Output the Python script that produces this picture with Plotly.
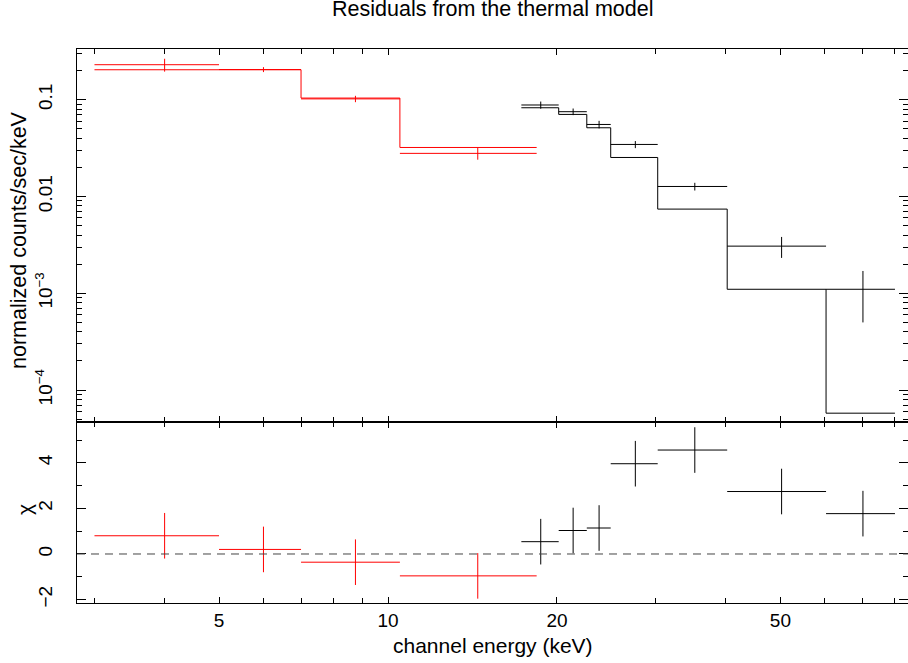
import plotly.graph_objects as go
import numpy as np

# ---------------- data ----------------
# red data set (lower energies)
red_lo = [3.0, 5.0, 7.0, 10.5]
red_hi = [5.0, 7.0, 10.5, 18.4]
red_e = [4.0, 6.0, 8.75, 14.45]
red_data = [0.230, 0.205, 0.102, 0.0279]
red_err = [0.035, 0.012, 0.0077, 0.0039]
red_model = [0.204, 0.204, 0.104, 0.0321]
red_resid = [0.80, 0.20, -0.36, -0.96]

# black data set (higher energies)
blk_lo = [17.28, 20.14, 22.6, 24.93, 30.23, 40.2, 60.3]
blk_hi = [20.14, 22.6, 24.93, 30.23, 40.2, 60.3, 80.0]
blk_e = [18.71, 21.37, 23.77, 27.58, 35.2, 50.25, 70.15]
blk_data = [0.0882, 0.0752, 0.0555, 0.0345, 0.01269, 0.00307, 0.00110]
blk_err = [0.0075, 0.0059, 0.0050, 0.0029, 0.00116, 0.00075, 0.0006]
blk_model = [0.0826, 0.0705, 0.0513, 0.0253, 0.00741, 0.00110, 5.77e-5]
blk_resid = [0.54, 1.03, 1.14, 3.96, 4.56, 2.74, 1.77]

x_ticks = [5, 10, 20, 50]
x_tick_text = ["5", "10", "20", "50"]
y_ticks = [1e-4, 1e-3, 0.01, 0.1]
y_tick_text = ["10<sup>−4</sup>", "10<sup>−3</sup>", "0.01", "0.1"]
chi_ticks = [-2, 0, 2, 4]
chi_tick_text = ["−2", "0", "2", "4"]

title_text = "Residuals from the thermal model"
x_title = "channel energy (keV)"
y_title = "normalized counts/sec/keV"
chi_title = "χ"

FONT = "Liberation Sans, Arial, Helvetica, sans-serif"
RED = "#ff0000"
BLK = "#000000"

fig = go.Figure()


def add_set(lo, hi, e, data, err, model, resid, color):
    lo = np.array(lo); hi = np.array(hi); e = np.array(e)
    xm = e - lo
    xp = hi - e
    # data crosses (top)
    fig.add_trace(go.Scatter(
        x=e, y=data, mode="markers", marker=dict(size=0.1, color=color),
        error_x=dict(type="data", array=xp, arrayminus=xm, symmetric=False,
                     width=0, thickness=1, color=color),
        error_y=dict(type="data", array=err, width=0, thickness=1, color=color),
        xaxis="x", yaxis="y", showlegend=False, hoverinfo="skip"))
    # model step line (top)
    xs = list(lo) + [hi[-1]]
    ys = list(model) + [model[-1]]
    fig.add_trace(go.Scatter(
        x=xs, y=ys, mode="lines", line=dict(color=color, width=1, shape="hv"),
        xaxis="x", yaxis="y", showlegend=False, hoverinfo="skip"))
    # residual crosses (bottom)
    fig.add_trace(go.Scatter(
        x=e, y=resid, mode="markers", marker=dict(size=0.1, color=color),
        error_x=dict(type="data", array=xp, arrayminus=xm, symmetric=False,
                     width=0, thickness=1, color=color),
        error_y=dict(type="constant", value=1, width=0, thickness=1, color=color),
        xaxis="x2", yaxis="y2", showlegend=False, hoverinfo="skip"))


add_set(red_lo, red_hi, red_e, red_data, red_err, red_model, red_resid, RED)
add_set(blk_lo, blk_hi, blk_e, blk_data, blk_err, blk_model, blk_resid, BLK)

# dashed zero line
fig.add_shape(type="line", xref="x2 domain", yref="y2", x0=0, x1=1, y0=0, y1=0,
              line=dict(color="#444444", width=1, dash="8px,6px"))

split = 181 / 554
xrange = [0.446, 1.9263]
x_minor = [3, 4, 6, 7, 8, 9, 30, 40, 60, 70, 80]
y_minor = [m * 10.0 ** d for d in range(-5, 1) for m in range(2, 10)]

common_x = dict(type="log", range=xrange, showline=True, linecolor="black", linewidth=1,
                mirror="ticks", ticks="inside", ticklen=6, tickcolor="black", tickwidth=1,
                tickmode="array", tickvals=x_ticks, ticktext=x_tick_text,
                minor=dict(tickmode="array", tickvals=x_minor, ticks="inside", ticklen=5,
                           tickcolor="black", tickwidth=1),
                showgrid=False, zeroline=False,
                tickfont=dict(family=FONT, size=19, color="black"))

fig.update_layout(
    width=908, height=663,
    margin=dict(l=77, r=0, t=49, b=60),
    paper_bgcolor="white", plot_bgcolor="white",
    xaxis=dict(common_x, domain=[0, 1], anchor="y", showticklabels=False, matches="x2"),
    xaxis2=dict(common_x, domain=[0, 1], anchor="y2", showticklabels=True,
                ticklabelstandoff=0),
    yaxis=dict(type="log", domain=[split, 1], range=[-4.33, -0.476], anchor="x",
               showline=True, linecolor="black", linewidth=1, mirror="ticks",
               ticks="inside", ticklen=9, tickcolor="black", tickwidth=1,
               tickmode="array", tickvals=y_ticks, ticktext=y_tick_text, tickangle=-90,
               minor=dict(tickmode="array", tickvals=y_minor, ticks="inside", ticklen=5,
                          tickcolor="black", tickwidth=1),
               showgrid=False, zeroline=False, ticklabelstandoff=16,
               tickfont=dict(family=FONT, size=19, color="black")),
    yaxis2=dict(domain=[0, split], range=[-2.15, 5.79], anchor="x2",
                showline=True, linecolor="black", linewidth=1, mirror="ticks",
                ticks="inside", ticklen=9, tickcolor="black", tickwidth=1,
                tickmode="array", tickvals=chi_ticks, ticktext=chi_tick_text, tickangle=-90,
                minor=dict(tickmode="array", tickvals=[-1, 1, 3, 5], ticks="inside", ticklen=5,
                           tickcolor="black", tickwidth=1),
                showgrid=False, zeroline=False, ticklabelstandoff=16,
                tickfont=dict(family=FONT, size=19, color="black")),
    annotations=[
        dict(text=title_text, xref="paper", yref="paper", x=0.5, y=1 + (49 - 9) / 554,
             xanchor="center", yanchor="middle", showarrow=False,
             font=dict(family=FONT, size=21.5, color="black")),
        dict(text=x_title, xref="paper", yref="paper", x=0.5, y=-(645 - 603) / 554,
             xanchor="center", yanchor="middle", showarrow=False,
             font=dict(family=FONT, size=21, color="black")),
        dict(text=y_title, xref="paper", yref="paper", x=(19 - 77) / 831, y=(603 - 240) / 554,
             xanchor="center", yanchor="middle", showarrow=False, textangle=-90,
             font=dict(family=FONT, size=21.5, color="black")),
        dict(text=chi_title, xref="paper", yref="paper", x=(24 - 77) / 831, y=(603 - 510) / 554,
             xanchor="center", yanchor="middle", showarrow=False, textangle=-90,
             font=dict(family=FONT, size=21, color="black")),
    ],
)

fig.write_html("out.html", config={"displayModeBar": False},
               post_script="document.body.style.margin='0';document.body.style.padding='0';")
